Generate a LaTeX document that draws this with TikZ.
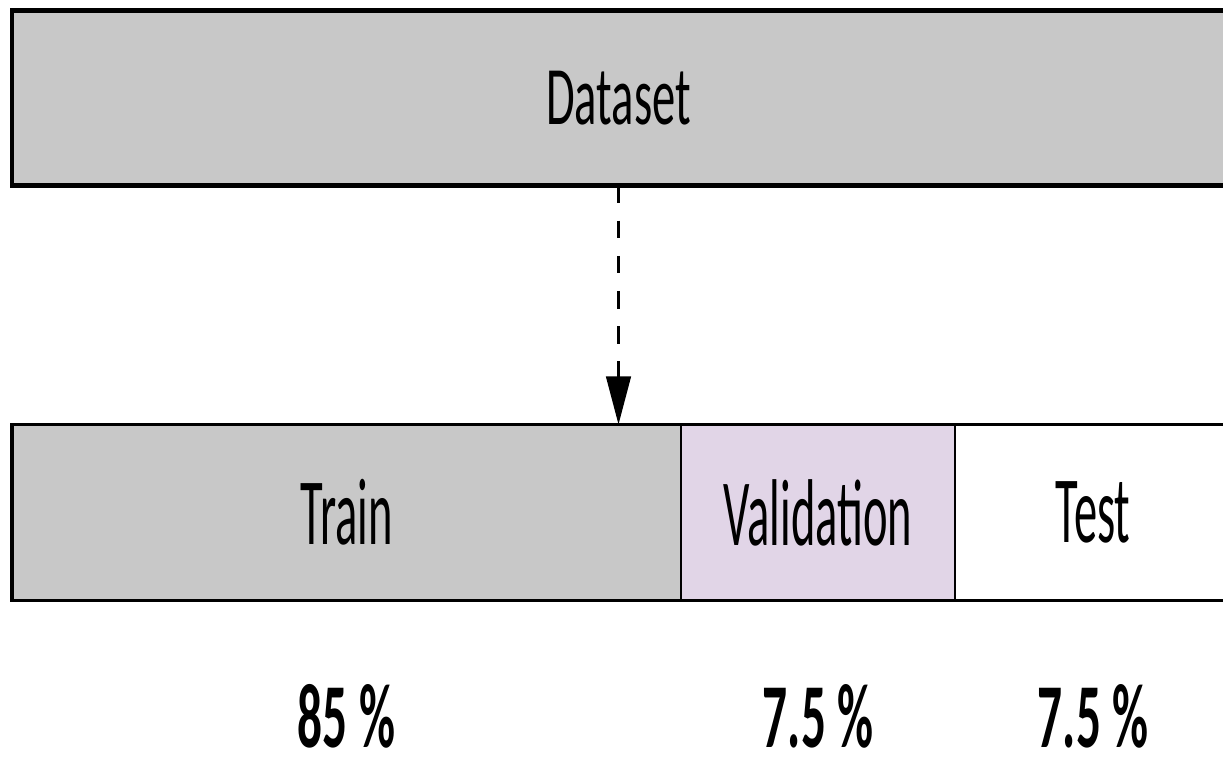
\documentclass[tikz,border=0pt]{standalone}
\usepackage{fontspec}
\usepackage{xcolor}
\usepackage{tikz}
\usetikzlibrary{arrows.meta,positioning}
\newfontfamily\topfont[FakeStretch=0.56]{Carlito}
\newfontfamily\partfont[FakeStretch=0.49]{Carlito}
\newfontfamily\pctfont[FakeStretch=0.54]{Carlito}
\definecolor{dsgray}{HTML}{C8C8C8}
\definecolor{dslilac}{HTML}{E1D5E7}
\tikzset{
  dsbox/.style={draw=black, fill=dsgray, line width=3.8pt, inner sep=0pt, outer sep=0pt,
    minimum width=36.39cm, minimum height=5.25cm, font=\topfont\fontsize{71}{75}\selectfont},
  dspart/.style={draw=black, line width=1.7pt, inner sep=0pt, outer sep=0pt,
    minimum height=5.28cm, font=\partfont\fontsize{81}{85}\selectfont},
  dspct/.style={inner sep=0pt, font=\pctfont\bfseries\fontsize{78}{82}\selectfont},
  dsline/.style={-{Triangle[length=41pt,width=21pt]}, line width=2.2pt, dash pattern=on 15pt off 15pt}
}
\begin{document}
\begin{tikzpicture}[x=0.03cm,y=-0.03cm]
  \useasboundingbox (0,0) rectangle (1223,757);
  \clip (0,0) rectangle (1223,757);

  \node[dsbox] (dataset) at (618.5,98) {Dataset};

  \node[dspart, fill=dsgray, minimum width=20.07cm] (train) at (346.5,512.5) {Train};
  \node[dspart, fill=dslilac, minimum width=8.22cm, right=0pt of train] (valid) {Validation};
  \node[dspart, fill=white, minimum width=8.28cm, right=0pt of valid] (test) {Test};
  \draw[line width=3pt] (train.south west) rectangle (test.north east);

  \draw[dsline] (dataset.south) -- (dataset.south |- train.north);

  \node[dspct] (ptrain) at (346.5,716) {85 \%};
  \node[dspct] (pvalid) at (818,716) {7.5 \%};
  \node[dspct] (ptest) at (1093,716) {7.5 \%};
\end{tikzpicture}
\end{document}
